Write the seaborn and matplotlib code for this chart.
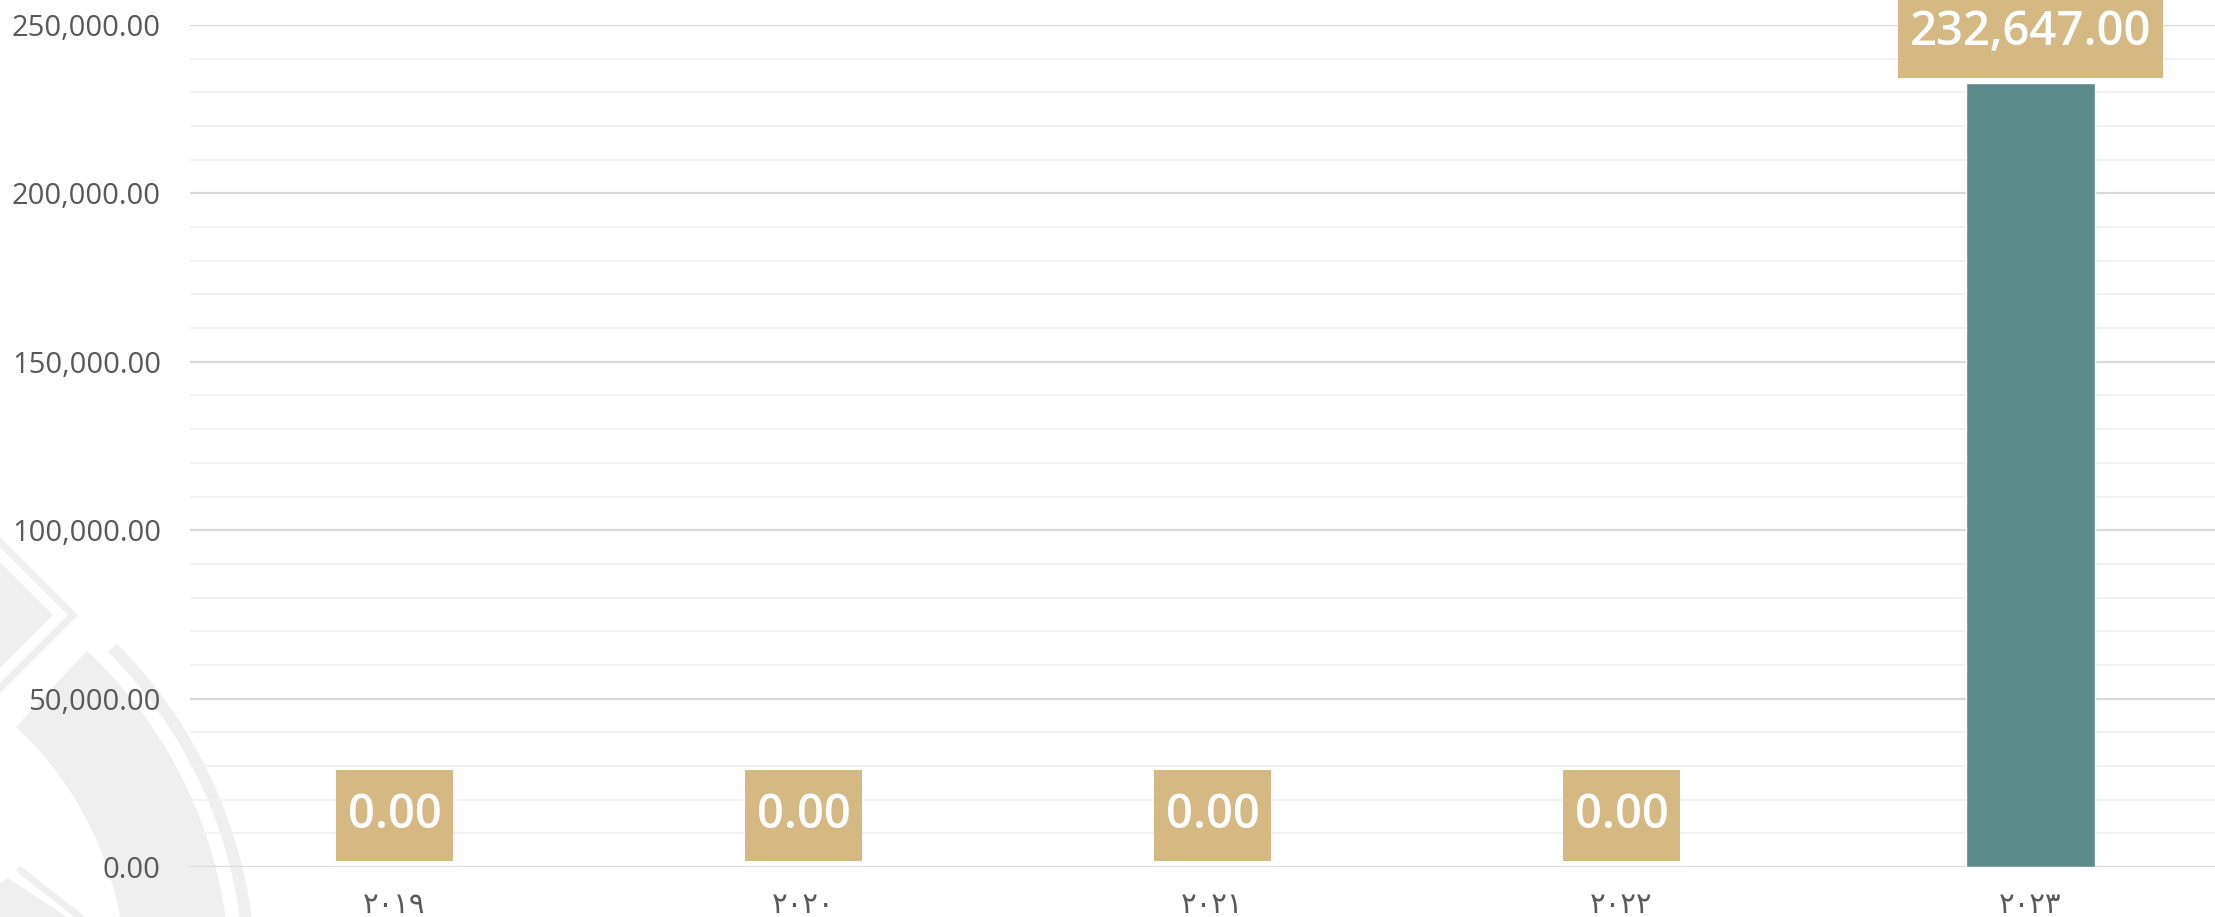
import matplotlib
matplotlib.use("Agg")
import matplotlib.pyplot as plt
from matplotlib.patches import Wedge, Polygon
from matplotlib.path import Path
from matplotlib.ticker import MultipleLocator, FuncFormatter
import seaborn as sns
import pandas as pd

# data
years = ["٢٠١٩", "٢٠٢٠", "٢٠٢١", "٢٠٢٢", "٢٠٢٣"]
amounts = [0.0, 0.0, 0.0, 0.0, 232647.0]

bar_color = "#5B8C8A"
label_color = "#D6B883"
tick_color = "#595959"
mark_gray = "#efefef"

sns.set_theme(style="white")
plt.rcParams["font.family"] = ["Open Sans", "DejaVu Sans"]

df = pd.DataFrame({"year": years, "amount": amounts})


# label box: more padding top/bottom than left/right
def label_box(x0, y0, width, height, mutation_size):
    px = 0.24 * mutation_size
    py = 0.47 * mutation_size
    x0, y0 = x0 - px, y0 - py
    x1, y1 = x0 + width + 2 * px, y0 + height + 2 * py
    return Path([(x0, y0), (x1, y0), (x1, y1), (x0, y1), (x0, y0)], closed=True)


fig = plt.figure(figsize=(22.15, 9.17), dpi=100)

# faint logo watermark behind the chart (pixel coordinates)
bg = fig.add_axes([0, 0, 1, 1], zorder=0)
bg.set_xlim(0, 2215)
bg.set_ylim(917, 0)
bg.axis("off")
bg.add_patch(Wedge((-220, 980), 450, -47, 30, width=104, fc=mark_gray, ec="none"))
bg.add_patch(Wedge((-220, 980), 476, -45, 30, width=12, fc=mark_gray, ec="none"))
bg.add_patch(Polygon([(53, 615), (-150, 412), (-350, 615), (-150, 818)], fc=mark_gray, ec="none"))
bg.plot([-120, 73, -120], [422, 615, 808], color=mark_gray, lw=5, solid_joinstyle="miter")
bg.add_patch(Polygon([(0, 883), (8, 878), (67, 917), (0, 917)], fc=mark_gray, ec="none"))
bg.plot([20, 80], [870, 917], color=mark_gray, lw=5)

# main chart
ax = fig.add_axes([190 / 2215, 50 / 917, 2045 / 2215, 842 / 917], zorder=1)
ax.patch.set_alpha(0)
sns.barplot(data=df, x="year", y="amount", color=bar_color, saturation=1,
            width=0.315, ax=ax)

ax.set_ylim(0, 250000)
ax.yaxis.set_major_locator(MultipleLocator(50000))
ax.yaxis.set_minor_locator(MultipleLocator(10000))
ax.yaxis.set_major_formatter(FuncFormatter(lambda v, p: f"{v:,.2f}"))
ax.grid(which="major", axis="y", color="#d9d9d9", lw=1.6)
ax.grid(which="minor", axis="y", color="#f2f2f2", lw=1.4)
ax.set_axisbelow(True)
sns.despine(ax=ax, left=True, bottom=True)
ax.tick_params(axis="both", which="both", length=0)
ax.tick_params(axis="y", labelsize=21, labelcolor=tick_color, pad=21)
ax.tick_params(axis="x", labelsize=21, labelcolor=tick_color, pad=17.5)
for t in ax.get_xticklabels():
    t.set_fontfamily(["DejaVu Sans"])
ax.set_xlabel("")
ax.set_ylabel("")

# value labels in tan boxes above each bar
for i, v in enumerate(amounts):
    ax.annotate(f"{v:,.2f}", (i, v), xytext=(0, 37), textcoords="offset points",
                ha="center", va="center", fontsize=34, color="white",
                fontweight="semibold", annotation_clip=False,
                bbox=dict(boxstyle=label_box, fc=label_color, ec="none"))

fig.savefig("out.png", dpi=100)
